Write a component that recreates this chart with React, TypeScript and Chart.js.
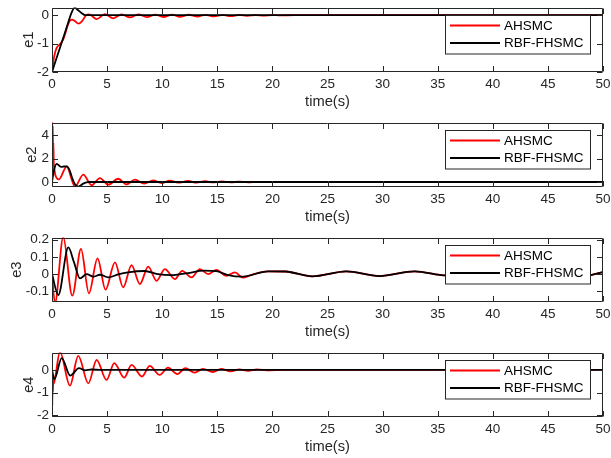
import React, { useEffect, useRef } from "react";
import { Chart, registerables } from "chart.js";

Chart.register(...registerables);

// ---------- data ----------
const timeTicks = [0, 5, 10, 15, 20, 25, 30, 35, 40, 45, 50];
const seriesNames = ["AHSMC", "RBF-FHSMC"];

// e1
const e1RedT = [0, 0.2, 0.42, 0.72, 1.02, 1.2, 1.48, 1.8, 2.05, 2.4, 2.75, 3.1, 3.35, 3.6, 4.05, 4.8, 5.56, 6.31, 7.07, 7.83, 8.6, 9.36, 10.1, 10.9, 11.6, 12.4, 13.2, 13.9, 14.7, 15.5, 16.2, 17.0, 17.7, 18.5, 19.2, 20.0, 20.7, 22, 50];
const e1RedV = [-2, -1.45, -1.15, -1.03, -0.85, -0.65, -0.3, -0.16, -0.2, -0.3, -0.2, 0.0, 0.03, -0.02, -0.14, 0.035, -0.11, 0.03, -0.08, 0.025, -0.07, 0.02, -0.065, 0.02, -0.06, 0.015, -0.05, 0.012, -0.045, 0.01, -0.035, 0.008, -0.025, 0.005, -0.015, 0.004, -0.008, 0, 0];
const e1BlackT = [0, 0.4, 0.9, 1.4, 1.75, 2.05, 2.3, 2.7, 3.0, 3.5, 50];
const e1BlackV = [-2, -1.53, -0.94, -0.35, 0.06, 0.27, 0.2, 0.07, 0.0, 0.0, 0];

// e2
const e2RedT = [0, 0.02, 0.04, 0.07, 0.1, 0.13, 0.16, 0.2, 0.3, 0.63, 1.33, 2.08, 2.84, 3.59, 4.35, 5.1, 6.01, 6.77, 7.52, 8.37, 9.18, 9.94, 10.7, 11.45, 12.36, 13.1, 13.9, 14.6, 15.4, 16.2, 17.0, 17.8, 18.6, 20, 50];
const e2RedV = [0, 5.5, 1.5, 4.8, 2.0, 3.4, 1.6, 1.2, 0.6, 0.23, 1.32, -0.4, 0.63, -0.28, 0.34, -0.23, 0.28, -0.2, 0.2, -0.14, 0.14, -0.09, 0.11, -0.06, 0.09, -0.05, 0.07, -0.04, 0.05, -0.03, 0.03, -0.02, 0.015, 0, 0];
const e2BlackT = [0, 0.2, 0.43, 0.82, 1.1, 1.35, 1.6, 1.8, 2.05, 2.38, 2.84, 3.3, 3.8, 50];
const e2BlackV = [0, 1.1, 1.56, 1.3, 1.33, 1.34, 1.0, 0.43, -0.15, -0.4, -0.14, 0, 0, 0];

// e3
const e3BlackT = [0, 0.57, 1.48, 2.0, 2.54, 3.15, 3.75, 4.35, 5.1, 6.0, 6.9, 8.4, 9.6, 10.8, 12.3, 13.8, 14.9, 15.9, 17.2, 19.6, 21.2, 23.6, 26.7, 29.7, 32.9, 35.8, 39.2, 42.3, 45.6, 48.6, 50];
const e3BlackV = [0, -0.122, 0.155, 0.068, -0.025, 0, -0.015, -0.004, -0.019, -0.002, 0.01, 0.018, 0, -0.006, 0.006, 0.02, 0.017, -0.004, -0.015, 0.016, 0.015, -0.013, 0.016, -0.012, 0.016, -0.008, 0.015, -0.008, 0.014, -0.007, 0.012];
const e3RedT = [0, 0.27, 1.02, 1.84, 2.63, 3.35, 4.13, 4.86, 5.71, 6.46, 7.22, 7.97, 8.73, 9.49, 10.24, 11.15, 11.81, 12.66, 13.42, 14.17, 14.92, 15.83, 16.6, 17.3, 18.1, 19.6, 21.2, 23.6, 26.7, 29.7, 32.9, 35.8, 39.2, 42.3, 45.6, 48.6, 50];
const e3RedV = [0, -0.17, 0.215, -0.126, 0.146, -0.112, 0.091, -0.091, 0.068, -0.077, 0.052, -0.058, 0.043, -0.039, 0.029, -0.029, 0.019, -0.019, 0.029, 0.0, 0.025, -0.01, 0.01, -0.02, -0.005, 0.016, 0.015, -0.013, 0.016, -0.012, 0.016, -0.008, 0.015, -0.008, 0.014, -0.007, 0.012];

// e4
const e4RedT = [0, 0.03, 0.06, 0.09, 0.12, 0.16, 0.3, 0.72, 1.63, 2.38, 3.3, 4.05, 4.95, 5.65, 6.55, 7.22, 8.17, 8.87, 9.77, 10.53, 11.37, 12.1, 12.94, 13.7, 14.6, 15.35, 16.2, 17.0, 17.8, 18.6, 19.5, 21, 50];
const e4RedV = [0, -1.55, -0.4, -0.97, -0.3, -0.6, -0.3, 0.8, -0.69, 0.62, -0.59, 0.44, -0.44, 0.3, -0.34, 0.22, -0.29, 0.18, -0.22, 0.1, -0.18, 0.075, -0.12, 0.045, -0.09, 0.045, -0.06, 0.03, -0.04, 0.02, -0.02, 0, 0];
const e4BlackT = [0, 0.22, 0.88, 1.65, 2.45, 3.0, 3.6, 4.5, 50];
const e4BlackV = [0, -0.4, 0.52, -0.25, 0.08, -0.02, 0.02, 0, 0];

// axis ranges / ticks
const e1Range = [-2, 0.27];
const e1Ticks = [-2, -1, 0];
const e2Range = [-0.42, 5.1];
const e2Ticks = [0, 2, 4];
const e3Range = [-0.162, 0.213];
const e3Ticks = [-0.1, 0, 0.1, 0.2];
const e4Range = [-2.07, 0.77];
const e4Ticks = [-2, -1, 0];

// ---------- styling ----------
const FONT = "'Liberation Sans', Arial, Helvetica, sans-serif";
const TEXT = "#262626";
const TICK_SIZE = 13.5;
const LABEL_SIZE = 14.7;
const LEGEND_SIZE = 13.5;
const PAD_TOP = 7.5;
const PLOT_H = 64.4;
const TICK_LEN = 5.5;

const zeroPad = (s: any) => {
  s.paddingTop = 0;
  s.paddingBottom = 0;
  s.paddingLeft = 0;
  s.paddingRight = 0;
};

const matlabPlugin = {
  id: "matlabFrame",
  afterDatasetsDraw(chart: any) {
    const { ctx, chartArea: a, scales } = chart;
    const xs = scales.x;
    const ys = scales.y;
    ctx.save();
    // frame
    ctx.strokeStyle = TEXT;
    ctx.lineWidth = 1;
    const L = Math.round(a.left) + 0.5;
    const R = Math.round(a.right) - 0.5;
    const T = Math.round(a.top) + 0.5;
    const B = Math.round(a.bottom) - 0.5;
    ctx.beginPath();
    ctx.rect(L, T, R - L, B - T);
    ctx.stroke();
    // inner ticks
    ctx.beginPath();
    xs.ticks.forEach((t: any) => {
      const px = Math.round(xs.getPixelForValue(t.value)) + 0.5;
      ctx.moveTo(px, B);
      ctx.lineTo(px, B - TICK_LEN);
      ctx.moveTo(px, T);
      ctx.lineTo(px, T + TICK_LEN);
    });
    ys.ticks.forEach((t: any) => {
      const py = Math.round(ys.getPixelForValue(t.value)) + 0.5;
      ctx.moveTo(L, py);
      ctx.lineTo(L + TICK_LEN, py);
      ctx.moveTo(R, py);
      ctx.lineTo(R - TICK_LEN, py);
    });
    ctx.stroke();

    // legend box
    const bx = 445.5;
    const bw = 145;
    const by = Math.round(a.top + 7) + 0.5;
    const bh = 38.5;
    ctx.fillStyle = "#ffffff";
    ctx.fillRect(bx, by, bw, bh);
    ctx.strokeStyle = TEXT;
    ctx.lineWidth = 1;
    ctx.strokeRect(bx, by, bw, bh);
    const colors = ["#ff0000", "#000000"];
    const rows = [by + 10, by + 27.5];
    ctx.font = `${LEGEND_SIZE}px ${FONT}`;
    ctx.textBaseline = "middle";
    ctx.textAlign = "left";
    rows.forEach((ry, i) => {
      ctx.strokeStyle = colors[i];
      ctx.lineWidth = 2;
      ctx.beginPath();
      ctx.moveTo(450, ry);
      ctx.lineTo(500, ry);
      ctx.stroke();
      ctx.fillStyle = "#000000";
      ctx.fillText(seriesNames[i], 504, ry + 0.5);
    });
    ctx.restore();
  },
};

type SubProps = {
  top: number;
  height: number;
  label: string;
  labelX: number;
  range: number[];
  yTicks: number[];
  redT: number[];
  redV: number[];
  blackT: number[];
  blackV: number[];
};

function Subplot(p: SubProps) {
  const ref = useRef<HTMLCanvasElement>(null);
  useEffect(() => {
    if (!ref.current) return;
    const pts = (t: number[], v: number[]) => t.map((x, i) => ({ x, y: v[i] }));
    const xAxisH = p.height - PAD_TOP - PLOT_H;
    const tickFont = { family: FONT, size: TICK_SIZE };
    const labelFont = { family: FONT, size: LABEL_SIZE };
    const halfLabel = LABEL_SIZE * 0.6;
    const chart = new Chart(ref.current, {
      type: "line",
      data: {
        datasets: [
          {
            label: seriesNames[0],
            data: pts(p.redT, p.redV),
            borderColor: "#ff0000",
            borderWidth: 1.8,
            pointRadius: 0,
            tension: 0.4,
            cubicInterpolationMode: "monotone",
            order: 2,
            clip: 0,
          },
          {
            label: seriesNames[1],
            data: pts(p.blackT, p.blackV),
            borderColor: "#000000",
            borderWidth: 1.8,
            pointRadius: 0,
            tension: 0.4,
            cubicInterpolationMode: "monotone",
            order: 1,
            clip: 0,
          },
        ],
      } as any,
      options: {
        responsive: false,
        animation: false,
        events: [],
        layout: { padding: { top: PAD_TOP, right: 8, bottom: 0, left: 0 } },
        plugins: { legend: { display: false }, tooltip: { enabled: false } },
        scales: {
          x: {
            type: "linear",
            min: 0,
            max: 50,
            afterBuildTicks: (s: any) => {
              s.ticks = timeTicks.map((v) => ({ value: v }));
            },
            afterFit: (s: any) => {
              s.height = xAxisH;
              zeroPad(s);
            },
            grid: { display: false, drawTicks: false },
            border: { display: false },
            ticks: {
              padding: 4.2,
              font: tickFont,
              color: TEXT,
              maxRotation: 0,
              autoSkip: false,
              callback: (v: any) => String(v),
            },
            title: {
              display: true,
              text: "time(s)",
              font: labelFont,
              color: TEXT,
              padding: { top: 0, bottom: p.height - 101.5 - halfLabel },
            },
          },
          y: {
            type: "linear",
            min: p.range[0],
            max: p.range[1],
            afterBuildTicks: (s: any) => {
              s.ticks = p.yTicks.map((v) => ({ value: v }));
            },
            afterFit: (s: any) => {
              s.width = 52;
              zeroPad(s);
            },
            grid: { display: false, drawTicks: false },
            border: { display: false },
            ticks: {
              padding: 3,
              font: tickFont,
              color: TEXT,
              autoSkip: false,
              callback: (v: any) => String(Math.round(v * 1000) / 1000),
            },
            title: {
              display: true,
              text: p.label,
              font: labelFont,
              color: TEXT,
              padding: { top: p.labelX - halfLabel, bottom: 0 },
            },
          },
        },
      } as any,
      plugins: [matlabPlugin],
    });
    return () => chart.destroy();
  }, []);
  return (
    <canvas
      ref={ref}
      width={611}
      height={p.height}
      style={{ position: "absolute", left: 0, top: p.top, width: 611, height: p.height }}
    />
  );
}

export default function App() {
  return (
    <div
      style={{
        position: "absolute",
        left: 0,
        top: 0,
        width: 611,
        height: 458,
        overflow: "hidden",
        background: "#ffffff",
      }}
    >
      <Subplot top={0} height={115} label="e1" labelX={28.5} range={e1Range} yTicks={e1Ticks} redT={e1RedT} redV={e1RedV} blackT={e1BlackT} blackV={e1BlackV} />
      <Subplot top={115} height={115} label="e2" labelX={32} range={e2Range} yTicks={e2Ticks} redT={e2RedT} redV={e2RedV} blackT={e2BlackT} blackV={e2BlackV} />
      <Subplot top={230} height={115} label="e3" labelX={17} range={e3Range} yTicks={e3Ticks} redT={e3RedT} redV={e3RedV} blackT={e3BlackT} blackV={e3BlackV} />
      <Subplot top={345} height={113} label="e4" labelX={28.5} range={e4Range} yTicks={e4Ticks} redT={e4RedT} redV={e4RedV} blackT={e4BlackT} blackV={e4BlackV} />
    </div>
  );
}
